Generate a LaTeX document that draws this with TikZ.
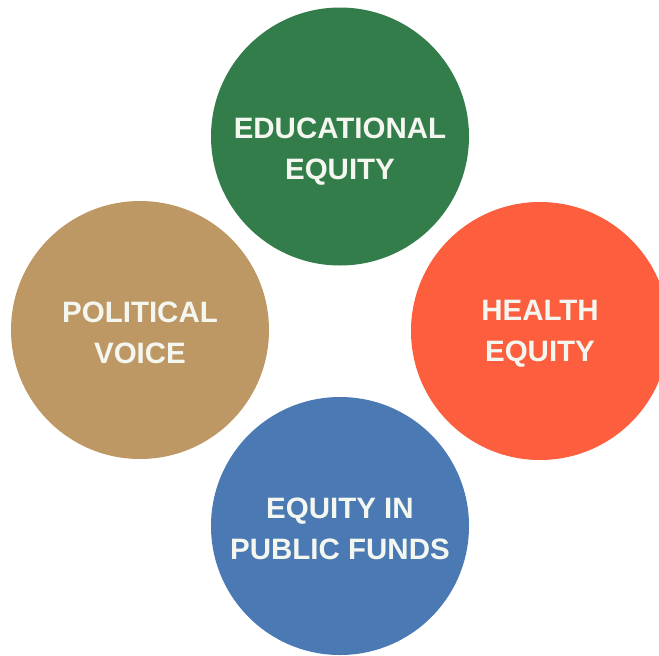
\documentclass[tikz,border=0pt]{standalone}
\usepackage{fontspec}
\setmainfont{Liberation Sans}
\usepackage{tikz}
\definecolor{eduGreen}{RGB}{51,125,74}
\definecolor{polTan}{RGB}{190,152,100}
\definecolor{healthRed}{RGB}{252,94,62}
\definecolor{fundBlue}{RGB}{74,121,180}
\definecolor{lblWhite}{RGB}{244,246,240}
\begin{document}
\begin{tikzpicture}[x=1pt,y=-1pt,
	disc/.style={circle,minimum size=258pt,inner sep=0pt},
	lbl/.style={text=lblWhite,align=center,font=\fontsize{29.5}{41}\selectfont\bfseries}]
\clip (0,0) rectangle (659,656);
\fill[white] (0,0) rectangle (659,656);
\node[disc,fill=eduGreen] (edu) at (340,136.5){};
\node[disc,fill=polTan] (pol) at (140,330){};
\node[disc,fill=healthRed] (hea) at (540,331){};
\node[disc,fill=fundBlue] (fun) at (340,526){};
\node[lbl] (edutxt) at ([yshift=-15pt]edu.center){EDUCATIONAL\\EQUITY};
\node[lbl] (poltxt) at ([yshift=-2.5pt]pol.center){POLITICAL\\VOICE};
\node[lbl] (heatxt) at ([yshift=-3pt]hea.center){HEALTH\\EQUITY};
\node[lbl] (funtxt) at ([yshift=-3pt]fun.center){EQUITY IN\\PUBLIC FUNDS};
\end{tikzpicture}
\end{document}
